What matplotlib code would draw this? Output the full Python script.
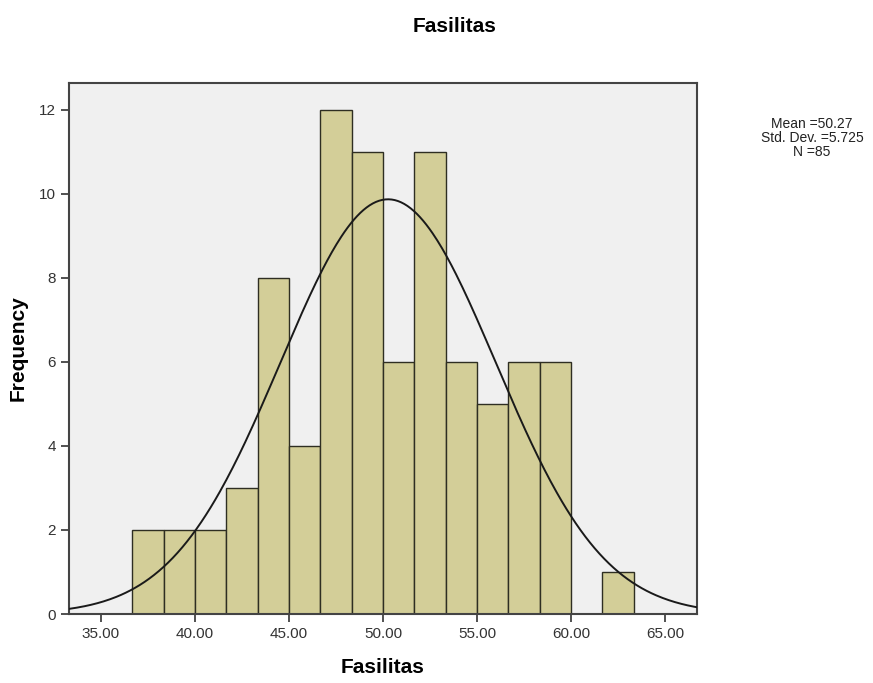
import numpy as np
import matplotlib
matplotlib.use("Agg")
import matplotlib.pyplot as plt

# Data
bin_edges = [36.667, 38.333, 40.0, 41.667, 43.333, 45.0, 46.667, 48.333, 50.0,
             51.667, 53.333, 55.0, 56.667, 58.333, 60.0, 61.667, 63.333]
counts = [2, 2, 2, 3, 8, 4, 12, 11, 6, 11, 6, 5, 6, 6, 0, 1]
mean_val = 50.27
std_val = 5.725
n_val = 85
x_ticks = [35, 40, 45, 50, 55, 60, 65]
x_tick_labels = ["35.00", "40.00", "45.00", "50.00", "55.00", "60.00", "65.00"]
y_ticks = [0, 2, 4, 6, 8, 10, 12]

plt.rcParams['font.family'] = ['Liberation Sans', 'DejaVu Sans']

fig = plt.figure(figsize=(8.73, 6.83), dpi=100)
fig.patch.set_facecolor('white')
ax = fig.add_axes([69/873, 1-614/683, (697-69)/873, (614-83)/683])
ax.set_facecolor('#F0F0F0')

lefts = np.array(bin_edges[:-1])
widths = np.diff(bin_edges)
ax.bar(lefts, counts, width=widths, align='edge', color='#D3CE98',
       edgecolor='#2E2E22', linewidth=1.0, zorder=2)

bw = float(np.mean(widths))
xs = np.linspace(33.3, 66.7, 400)
ys = n_val * bw / (std_val * np.sqrt(2 * np.pi)) * np.exp(-0.5 * ((xs - mean_val) / std_val) ** 2)
ax.plot(xs, ys, color='#1a1a1a', linewidth=1.4, zorder=3)

ax.set_xlim(33.3, 66.7)
ax.set_ylim(0, 12.64)
ax.set_xticks(x_ticks)
ax.set_xticklabels(x_tick_labels)
ax.set_yticks(y_ticks)
ax.tick_params(axis='both', direction='out', length=6, width=1.2, color='#333333',
               labelsize=11, labelcolor='#333333')
for s in ax.spines.values():
    s.set_color('#444444')
    s.set_linewidth(1.5)

ax.set_xlabel("Fasilitas", fontsize=15, fontweight='bold', labelpad=12)
ax.set_ylabel("Frequency", fontsize=15, fontweight='bold', labelpad=8)
fig.text(455/873, 1-27/683, "Fasilitas", ha='center', va='center',
         fontsize=15, fontweight='bold')
fig.text(812/873, 1-138/683, "Mean =50.27\nStd. Dev. =5.725\nN =85",
         ha='center', va='center', fontsize=10, linespacing=1.0, color='#222222')

fig.savefig("out.png", dpi=100)
